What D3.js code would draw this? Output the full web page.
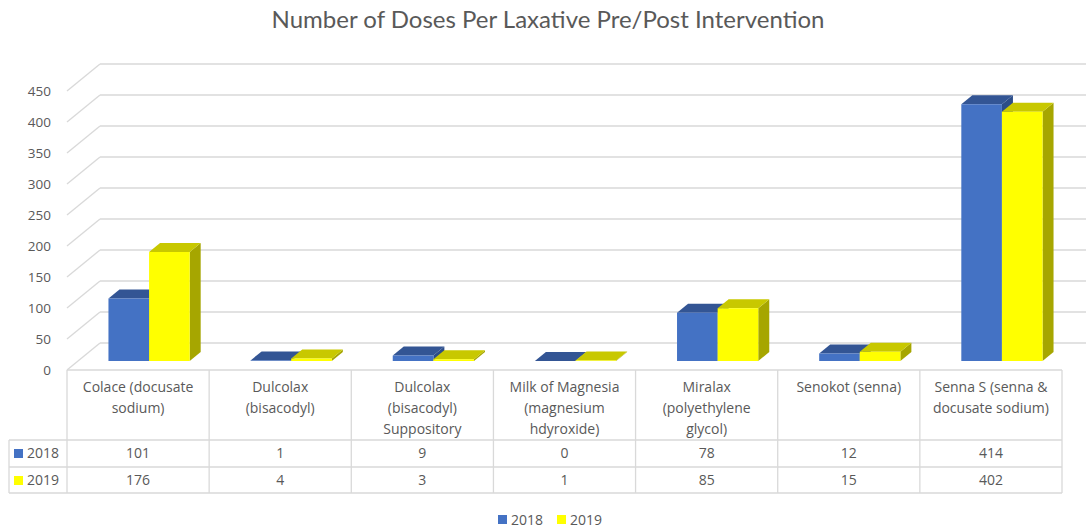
<!doctype html>
<html>
<head>
<meta charset="utf-8">
<script src="https://d3js.org/d3.v7.min.js"></script>
<style>
body { margin: 0; background: #fff; }
svg text { font-family: "Open Sans", Lato, sans-serif; fill: #595959; }
</style>
</head>
<body>
<svg id="chart" width="1086" height="531"></svg>
<script>
// data
var categories = [
  ["Colace (docusate", "sodium)"],
  ["Dulcolax", "(bisacodyl)"],
  ["Dulcolax", "(bisacodyl)", "Suppository"],
  ["Milk of Magnesia", "(magnesium", "hdyroxide)"],
  ["Miralax", "(polyethylene", "glycol)"],
  ["Senokot (senna)"],
  ["Senna S (senna &", "docusate sodium)"]
];
var series = ["2018", "2019"];
var values2018 = [101, 1, 9, 0, 78, 12, 414];
var values2019 = [176, 4, 3, 1, 85, 15, 402];
var yTicks = [0, 50, 100, 150, 200, 250, 300, 350, 400, 450];

var colors = {
  "2018": {front: "#4472c4", top: "#335594", side: "#2c4d88"},
  "2019": {front: "#ffff00", top: "#c8c800", side: "#a6a600"}
};

var svg = d3.select("#chart");
var floorY = 370, depthX = 33, depthY = -27;

var catIdx = categories.map(function(d, i) { return i; });
var x = d3.scaleBand().domain(catIdx).range([67, 1062]);
var xs = d3.scaleBand().domain(series).range([0, x.bandwidth()]).paddingInner(0).paddingOuter(0.75);
var h = d3.scaleLinear().domain([0, 450]).range([0, 279]);

function pt(px, v, d) {
  return [px + depthX * d, floorY - h(v) + depthY * d];
}
function poly(pts) { return pts.map(function(p) { return p.join(","); }).join(" "); }

// title
svg.append("text").attr("x", 548).attr("y", 28)
  .attr("text-anchor", "middle").style("font-family", "Lato").style("font-size", "24px")
  .text("Number of Doses Per Laxative Pre/Post Intervention");

// walls: gridlines
var grid = svg.append("g").attr("stroke", "#d9d9d9").attr("stroke-width", 1.3).attr("fill", "none");
yTicks.forEach(function(t) {
  var a = pt(67, t, 0), b = pt(67, t, 1);
  grid.append("line").attr("x1", a[0]).attr("y1", a[1]).attr("x2", b[0]).attr("y2", b[1]);
  grid.append("line").attr("x1", b[0]).attr("y1", b[1]).attr("x2", 1090).attr("y2", b[1]);
});

// y axis labels
svg.append("g").selectAll("text").data(yTicks).enter().append("text")
  .attr("x", 51).attr("y", function(d) { return floorY - h(d) + 5; })
  .attr("text-anchor", "end").style("font-size", "13.5px")
  .text(function(d) { return d; });

// bars
var data = [];
catIdx.forEach(function(i) {
  data.push({c: i, s: "2018", v: values2018[i]});
  data.push({c: i, s: "2019", v: values2019[i]});
});
var bars = svg.append("g").selectAll("g").data(data).enter().append("g");
bars.each(function(d) {
  var g = d3.select(this);
  var x0 = x(d.c) + xs(d.s), x1 = x0 + xs.bandwidth();
  var d0 = 1 / 3, d1 = 2 / 3;
  var c = colors[d.s];
  g.append("polygon").attr("fill", c.side)
    .attr("points", poly([pt(x1, 0, d0), pt(x1, 0, d1), pt(x1, d.v, d1), pt(x1, d.v, d0)]));
  g.append("polygon").attr("fill", c.top)
    .attr("points", poly([pt(x0, d.v, d0), pt(x1, d.v, d0), pt(x1, d.v, d1), pt(x0, d.v, d1)]));
  g.append("polygon").attr("fill", c.front)
    .attr("points", poly([pt(x0, 0, d0), pt(x1, 0, d0), pt(x1, d.v, d0), pt(x0, d.v, d0)]));
});

// data table
var tbl = svg.append("g");
var lineC = "#d9d9d9";
var rowTop = [370, 440, 467, 493];
tbl.append("line").attr("x1", 67).attr("x2", 1062).attr("y1", 370).attr("y2", 370).attr("stroke", lineC).attr("stroke-width", 1.3);
[440, 467, 493].forEach(function(yy) {
  tbl.append("line").attr("x1", 9).attr("x2", 1062).attr("y1", yy).attr("y2", yy).attr("stroke", lineC).attr("stroke-width", 1.3);
});
catIdx.concat([categories.length]).forEach(function(i) {
  var xx = i < categories.length ? x(i) : x.range()[1];
  tbl.append("line").attr("x1", xx).attr("x2", xx).attr("y1", 370).attr("y2", 493).attr("stroke", lineC).attr("stroke-width", 1.3);
});
tbl.append("line").attr("x1", 9).attr("x2", 9).attr("y1", 440).attr("y2", 493).attr("stroke", lineC).attr("stroke-width", 1.3);

// header labels
tbl.selectAll("text.cat").data(categories).enter().append("text")
  .attr("class", "cat").attr("text-anchor", "middle").style("font-size", "14px")
  .each(function(lines, i) {
    var t = d3.select(this);
    lines.forEach(function(l, j) {
      t.append("tspan").attr("x", x(i) + x.bandwidth() / 2).attr("y", 392 + j * 21).text(l);
    });
  });

// row labels + values
[values2018, values2019].forEach(function(vals, r) {
  var yy = rowTop[r + 1];
  tbl.append("rect").attr("x", 14).attr("y", yy + 9).attr("width", 9).attr("height", 9)
    .attr("fill", colors[series[r]].front);
  tbl.append("text").attr("x", 27).attr("y", yy + 18).style("font-size", "14px").text(series[r]);
  tbl.selectAll(null).data(vals).enter().append("text")
    .attr("x", function(d, i) { return x(i) + x.bandwidth() / 2; })
    .attr("y", yy + 18).attr("text-anchor", "middle").style("font-size", "14px")
    .text(function(d) { return d; });
});

// legend
var leg = svg.append("g");
var legX = [498, 557];
series.forEach(function(s, i) {
  leg.append("rect").attr("x", legX[i]).attr("y", 515).attr("width", 9).attr("height", 9).attr("fill", colors[s].front);
  leg.append("text").attr("x", legX[i] + 13).attr("y", 525).style("font-size", "14px").text(s);
});
</script>
</body>
</html>
